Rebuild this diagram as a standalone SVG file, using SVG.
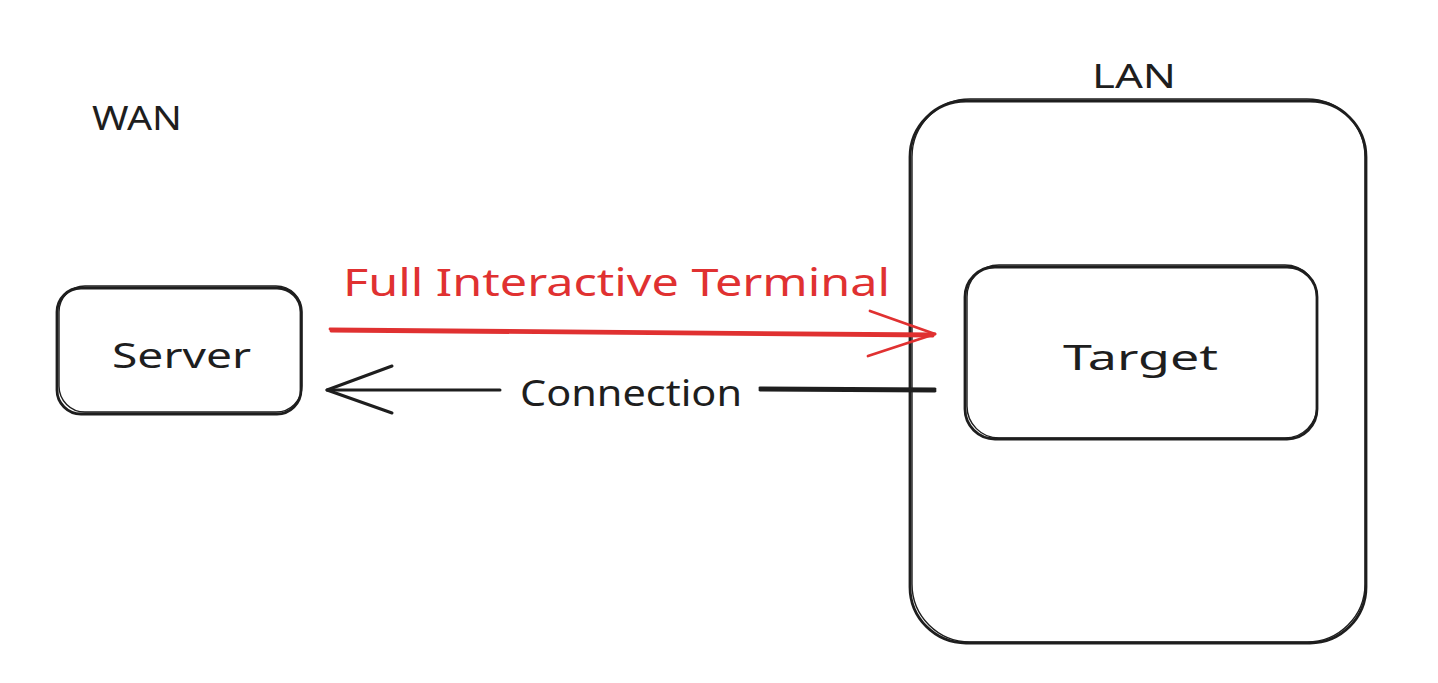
<svg xmlns="http://www.w3.org/2000/svg" width="1438" height="683" viewBox="0 0 1438 683">
<style>
.box{fill:none;stroke:#1e1e1e;stroke-width:2.8;stroke-linecap:round;stroke-linejoin:round}
.thin{fill:none;stroke:#1e1e1e;stroke-width:1.4}
.lbl{font-family:"Noto Sans","Liberation Sans",sans-serif;fill:#1e1e1e}
.red{fill:none;stroke:#e03131;stroke-width:2.8;stroke-linecap:round;stroke-linejoin:round}
.blk{fill:none;stroke:#1e1e1e;stroke-width:3;stroke-linecap:round;stroke-linejoin:round}
</style>
<rect width="1438" height="683" fill="#ffffff"/>
<g id="wan-label">
<text class="lbl" x="92" y="130" font-size="32" textLength="90" lengthAdjust="spacingAndGlyphs">WAN</text>
</g>
<g id="lan">
<rect class="box" x="910" y="101" width="456" height="542" rx="56"/>
<rect class="thin" x="912" y="99" width="453" height="543" rx="58"/>
<text class="lbl" x="1092" y="88" font-size="32" textLength="84" lengthAdjust="spacingAndGlyphs">LAN</text>
</g>
<g id="server">
<rect class="box" x="57" y="288" width="244" height="126" rx="24"/>
<rect class="thin" x="59" y="286" width="243" height="126" rx="26"/>
<text class="lbl" x="112" y="368" font-size="34" textLength="139" lengthAdjust="spacingAndGlyphs">Server</text>
</g>
<g id="target">
<rect class="box" x="965" y="267" width="352" height="172" rx="30"/>
<rect class="thin" x="967" y="265" width="350" height="173" rx="32"/>
<text class="lbl" x="1063" y="370" font-size="34" textLength="155" lengthAdjust="spacingAndGlyphs">Target</text>
</g>
<g id="connectors">
<g id="terminal-arrow">
<path class="red" d="M330 329 L935 334"/>
<path class="red" d="M331 331 L933 336" stroke-width="1.4"/>
<path class="red" d="M870 311 L935 334 L868 356"/>
<text x="343" y="296" font-family="Noto Sans, Liberation Sans, sans-serif" font-size="38" fill="#e03131" textLength="547" lengthAdjust="spacingAndGlyphs">Full Interactive Terminal</text>
</g>
<g id="connection-arrow">
<path class="blk" d="M935 391 L760 390"/>
<path class="blk" d="M935 389 L760 388" stroke-width="1.4"/>
<path class="blk" d="M500 390 L327 390"/>
<path class="blk" d="M392 366 L327 390 L392 413"/>
<text class="lbl" x="520" y="406" font-size="36" textLength="222" lengthAdjust="spacingAndGlyphs">Connection</text>
</g>
</g>
</svg>
